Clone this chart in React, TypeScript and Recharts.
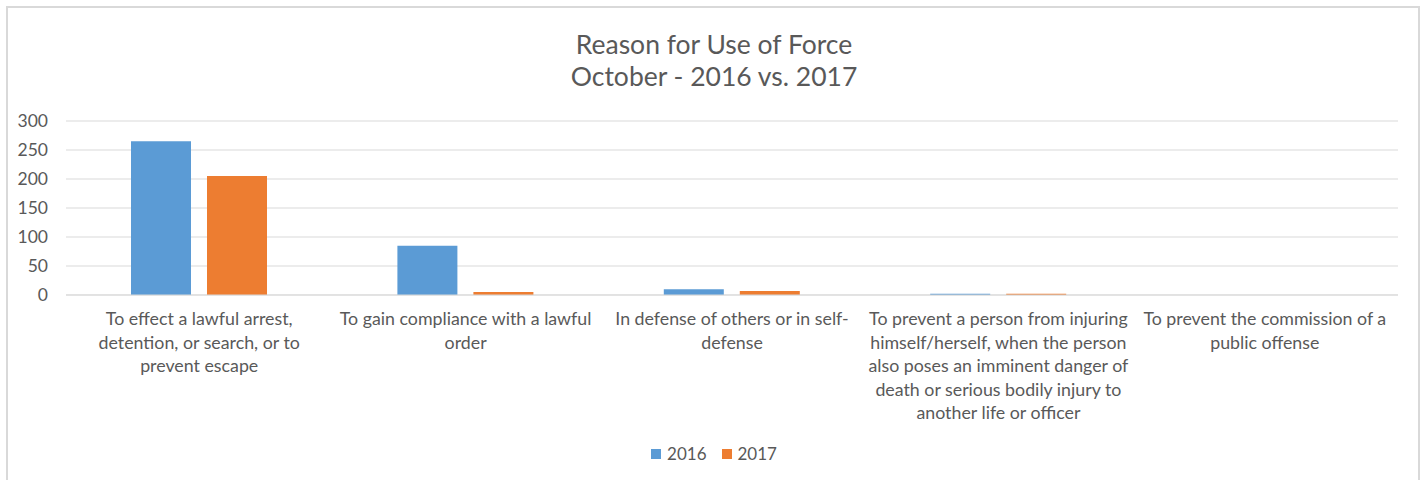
import { Bar, BarChart, CartesianGrid, XAxis, YAxis } from "recharts";

const BLUE = "#5B9BD5";
const ORANGE = "#ED7D31";
const TEXT = "#595959";
const GRID = "#d9d9d9";
const FONT = "Lato, 'Open Sans', sans-serif";

const categories = [
  "To effect a lawful arrest, detention, or search, or to prevent escape",
  "To gain compliance with a lawful order",
  "In defense of others or in self-defense",
  "To prevent a person from injuring himself/herself, when the person also poses an imminent danger of death or serious bodily injury to another life or officer",
  "To prevent the commission of a public offense",
];
const labelLines = [
  ["To effect a lawful arrest,", "detention, or search, or to", "prevent escape"],
  ["To gain compliance with a lawful", "order"],
  ["In defense of others or in self-", "defense"],
  [
    "To prevent a person from injuring",
    "himself/herself, when the person",
    "also poses an imminent danger of",
    "death or serious bodily injury to",
    "another life or officer",
  ],
  ["To prevent the commission of a", "public offense"],
];
const values2016 = [265, 85, 10, 2, 0];
const values2017 = [205, 5, 7, 2, 0];
const yTicks = [0, 50, 100, 150, 200, 250, 300];
const seriesNames = ["2016", "2017"];
const seriesColors = [BLUE, ORANGE];

const data = categories.map((c, i) => ({
  name: c,
  y2016: values2016[i],
  y2017: values2017[i],
}));

function CategoryTick(props: any) {
  const { x, y, index } = props;
  const lines = labelLines[index] ?? [];
  return (
    <text x={x} y={y} textAnchor="middle" fill={TEXT} fontSize={17.8} fontFamily={FONT}>
      {lines.map((l, i) => (
        <tspan key={i} x={x} dy={i === 0 ? 30 : 23.5}>
          {l}
        </tspan>
      ))}
    </text>
  );
}

export default function App() {
  return (
    <div style={{ position: "absolute", left: 0, top: 0, width: 1428, height: 480, background: "#fff", overflow: "hidden" }}>
      <div
        style={{
          position: "absolute",
          left: 6,
          top: 6,
          width: 1414,
          height: 500,
          border: `2px solid ${GRID}`,
          boxSizing: "border-box",
        }}
      />
      <div
        style={{
          position: "absolute",
          left: 0,
          top: 28,
          width: 1428,
          textAlign: "center",
          fontFamily: FONT,
          fontSize: 26.5,
          lineHeight: "32px",
          color: TEXT,
        }}
      >
        <div>Reason for Use of Force</div>
        <div>October - 2016 vs. 2017</div>
      </div>
      <div style={{ position: "absolute", left: 0, top: 0 }}>
        <BarChart
          width={1428}
          height={480}
          data={data}
          margin={{ top: 121, right: 30, bottom: 55, left: 0 }}
          barSize={60}
          barGap={16}
        >
          <CartesianGrid stroke={GRID} vertical={false} />
          <XAxis
            dataKey="name"
            axisLine={{ stroke: GRID }}
            tickLine={false}
            tickSize={0}
            tickMargin={0}
            height={130}
            interval={0}
            tick={<CategoryTick />}
          />
          <YAxis
            domain={[0, 300]}
            ticks={yTicks}
            width={66}
            axisLine={false}
            tickLine={false}
            tickSize={0}
            tickMargin={18}
            tick={{ fill: TEXT, fontSize: 17.5, fontFamily: FONT }}
          />
          <Bar dataKey="y2016" name="2016" fill={BLUE} isAnimationActive={false} />
          <Bar dataKey="y2017" name="2017" fill={ORANGE} isAnimationActive={false} />
        </BarChart>
      </div>
      <div
        style={{
          position: "absolute",
          left: 0,
          top: 443,
          width: 1428,
          display: "flex",
          justifyContent: "center",
          fontFamily: FONT,
          fontSize: 17,
          color: TEXT,
        }}
      >
        {seriesNames.map((n, i) => (
          <div key={n} style={{ display: "flex", alignItems: "center", marginLeft: i ? 15 : 0 }}>
            <span style={{ width: 10, height: 10, background: seriesColors[i], display: "inline-block", marginRight: 6 }} />
            <span>{n}</span>
          </div>
        ))}
      </div>
    </div>
  );
}
